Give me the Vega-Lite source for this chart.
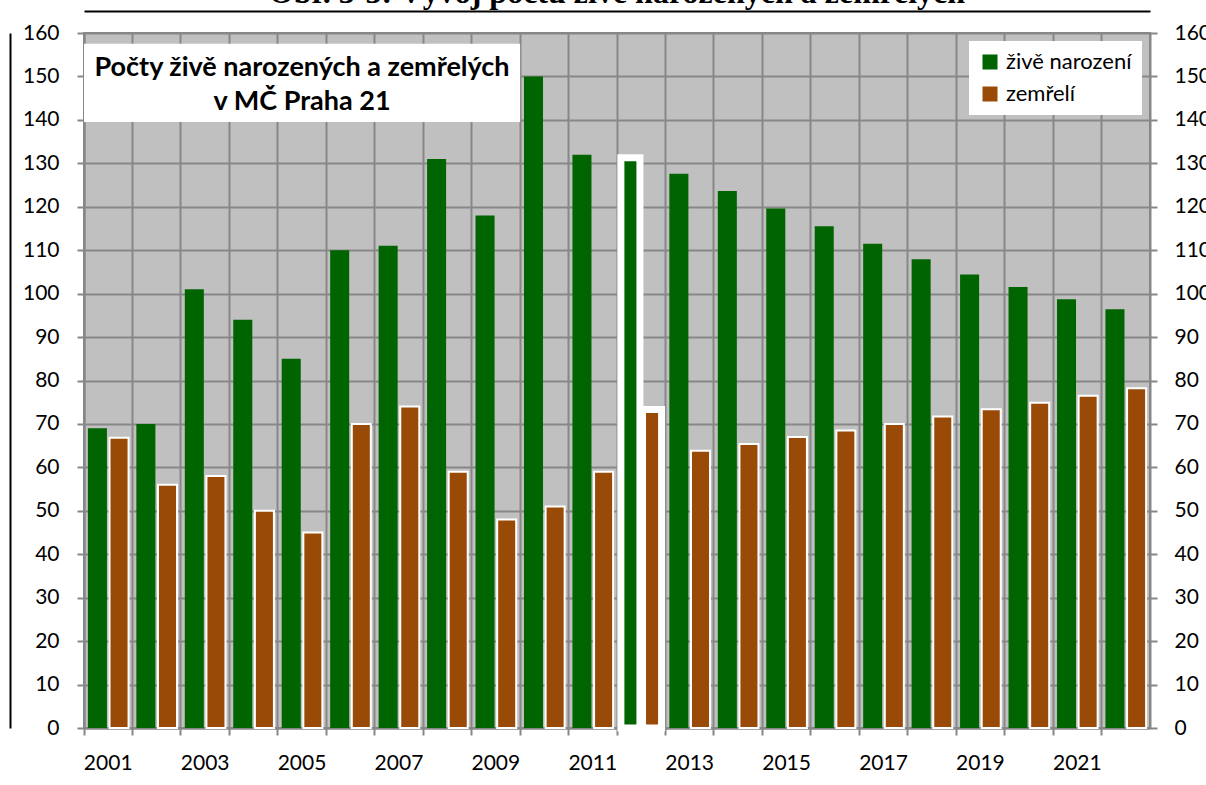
{
  "$schema": "https://vega.github.io/schema/vega-lite/v6.json",
  "width": 1066,
  "height": 695,
  "autosize": {"type": "none"},
  "padding": {"left": 84, "top": 33, "right": 56, "bottom": 57},
  "background": "white",
  "title": {
    "text": "Obr. 3-3: Vývoj počtu živě narozených a zemřelých",
    "font": "Liberation Serif",
    "fontSize": 32,
    "fontWeight": "bold",
    "color": "black",
    "anchor": "middle",
    "baseline": "alphabetic",
    "offset": -24,
    "frame": "group"
  },
  "data": {
    "values": [
      {"year": 2001, "series": "živě narození", "value": 69},
      {"year": 2002, "series": "živě narození", "value": 70},
      {"year": 2003, "series": "živě narození", "value": 101},
      {"year": 2004, "series": "živě narození", "value": 94},
      {"year": 2005, "series": "živě narození", "value": 85},
      {"year": 2006, "series": "živě narození", "value": 110},
      {"year": 2007, "series": "živě narození", "value": 111},
      {"year": 2008, "series": "živě narození", "value": 131},
      {"year": 2009, "series": "živě narození", "value": 118},
      {"year": 2010, "series": "živě narození", "value": 150},
      {"year": 2011, "series": "živě narození", "value": 132},
      {"year": 2012, "series": "živě narození", "value": 131.3},
      {"year": 2013, "series": "živě narození", "value": 127.6},
      {"year": 2014, "series": "živě narození", "value": 123.6},
      {"year": 2015, "series": "živě narození", "value": 119.6},
      {"year": 2016, "series": "živě narození", "value": 115.5},
      {"year": 2017, "series": "živě narození", "value": 111.5},
      {"year": 2018, "series": "živě narození", "value": 107.9},
      {"year": 2019, "series": "živě narození", "value": 104.4},
      {"year": 2020, "series": "živě narození", "value": 101.5},
      {"year": 2021, "series": "živě narození", "value": 98.7},
      {"year": 2022, "series": "živě narození", "value": 96.4},
      {"year": 2001, "series": "zemřelí", "value": 66.8},
      {"year": 2002, "series": "zemřelí", "value": 56},
      {"year": 2003, "series": "zemřelí", "value": 58},
      {"year": 2004, "series": "zemřelí", "value": 50},
      {"year": 2005, "series": "zemřelí", "value": 45},
      {"year": 2006, "series": "zemřelí", "value": 70},
      {"year": 2007, "series": "zemřelí", "value": 74},
      {"year": 2008, "series": "zemřelí", "value": 59},
      {"year": 2009, "series": "zemřelí", "value": 48},
      {"year": 2010, "series": "zemřelí", "value": 51},
      {"year": 2011, "series": "zemřelí", "value": 59},
      {"year": 2012, "series": "zemřelí", "value": 73.3},
      {"year": 2013, "series": "zemřelí", "value": 63.8},
      {"year": 2014, "series": "zemřelí", "value": 65.4},
      {"year": 2015, "series": "zemřelí", "value": 67},
      {"year": 2016, "series": "zemřelí", "value": 68.5},
      {"year": 2017, "series": "zemřelí", "value": 70},
      {"year": 2018, "series": "zemřelí", "value": 71.7},
      {"year": 2019, "series": "zemřelí", "value": 73.4},
      {"year": 2020, "series": "zemřelí", "value": 74.9},
      {"year": 2021, "series": "zemřelí", "value": 76.5},
      {"year": 2022, "series": "zemřelí", "value": 78.2}
    ]
  },
  "layer": [
    {
      "data": {"values": [{}]},
      "mark": {"type": "rect", "fill": "white"},
      "encoding": {
        "x": {
          "datum": 2001,
          "type": "ordinal",
          "bandPosition": 0,
          "axis": {
            "orient": "top",
            "offset": 22,
            "domainColor": "black",
            "domainWidth": 2,
            "ticks": false,
            "labels": false,
            "grid": false,
            "title": null
          }
        },
        "x2": {"datum": 2010, "bandPosition": 0},
        "y": {
          "datum": 157.5,
          "type": "quantitative",
          "scale": {"domain": [0, 160], "nice": false},
          "axis": {
            "orient": "right",
            "values": [0, 10, 20, 30, 40, 50, 60, 70, 80, 90, 100, 110, 120, 130, 140, 150, 160],
            "grid": false,
            "domainColor": "#878787",
            "domainWidth": 2,
            "tickColor": "#878787",
            "tickWidth": 2,
            "tickSize": 7,
            "labelFont": "Lato",
            "labelFontSize": 21,
            "labelColor": "black",
            "labelPadding": 17,
            "title": null
          }
        },
        "y2": {"datum": 139.5}
      }
    },
    {
      "mark": {"type": "bar", "stroke": "white"},
      "encoding": {
        "x": {
          "field": "year",
          "type": "ordinal",
          "scale": {"paddingInner": 0, "paddingOuter": 0},
          "axis": {
            "orient": "bottom",
            "bandPosition": 0,
            "labelExpr": "datum.value % 2 == 1 ? datum.label : ''",
            "labelAngle": 0,
            "labelOverlap": false,
            "labelPadding": 17,
            "labelFont": "Lato",
            "labelFontSize": 21,
            "labelColor": "black",
            "grid": true,
            "gridColor": "#878787",
            "gridWidth": 2,
            "domainColor": "#878787",
            "domainWidth": 2,
            "tickColor": "#878787",
            "tickWidth": 2,
            "tickSize": 7,
            "title": null
          }
        },
        "xOffset": {
          "field": "series",
          "type": "nominal",
          "sort": ["živě narození", "zemřelí"],
          "scale": {"paddingInner": 0.12, "paddingOuter": 0.18}
        },
        "y": {
          "field": "value",
          "type": "quantitative",
          "scale": {"domain": [0, 160], "nice": false},
          "axis": {
            "orient": "left",
            "values": [0, 10, 20, 30, 40, 50, 60, 70, 80, 90, 100, 110, 120, 130, 140, 150, 160],
            "grid": true,
            "gridColor": "#878787",
            "gridWidth": 2,
            "domainColor": "#878787",
            "domainWidth": 2,
            "tickColor": "#878787",
            "tickWidth": 2,
            "tickSize": 7,
            "labelFont": "Lato",
            "labelFontSize": 21,
            "labelColor": "black",
            "labelPadding": 18,
            "title": null
          }
        },
        "color": {
          "field": "series",
          "type": "nominal",
          "scale": {"domain": ["živě narození", "zemřelí"], "range": ["#006400", "#9A4A07"]},
          "legend": {
            "title": null,
            "orient": "top-right",
            "offset": 8,
            "fillColor": "white",
            "padding": 10,
            "symbolType": "square",
            "symbolSize": 225,
            "symbolStrokeWidth": 0,
            "labelFont": "Lato",
            "labelFontSize": 22,
            "labelColor": "black",
            "rowPadding": 10,
            "labelOffset": 5
          }
        },
        "strokeWidth": {
          "condition": [
            {"test": "datum.year == 2012", "value": 7},
            {"test": "datum.series == 'zemřelí'", "value": 2}
          ],
          "value": 0
        }
      }
    },
    {
      "data": {"values": [{}]},
      "mark": {
        "type": "text",
        "font": "Lato",
        "fontSize": 27,
        "fontWeight": "bold",
        "color": "black",
        "align": "center",
        "baseline": "alphabetic",
        "lineHeight": 34
      },
      "encoding": {
        "x": {"datum": 2005, "type": "ordinal", "axis": null},
        "y": {
          "datum": 150.1,
          "type": "quantitative",
          "axis": {
            "orient": "left",
            "offset": 74,
            "domainColor": "black",
            "domainWidth": 2,
            "ticks": false,
            "labels": false,
            "grid": false,
            "title": null
          }
        },
        "text": {"value": ["Počty živě narozených a zemřelých", "v MČ Praha 21"]}
      }
    }
  ],
  "resolve": {"axis": {"x": "independent", "y": "independent"}},
  "config": {
    "view": {"stroke": "#878787", "strokeWidth": 2, "fill": "#C0C0C0"}
  }
}
